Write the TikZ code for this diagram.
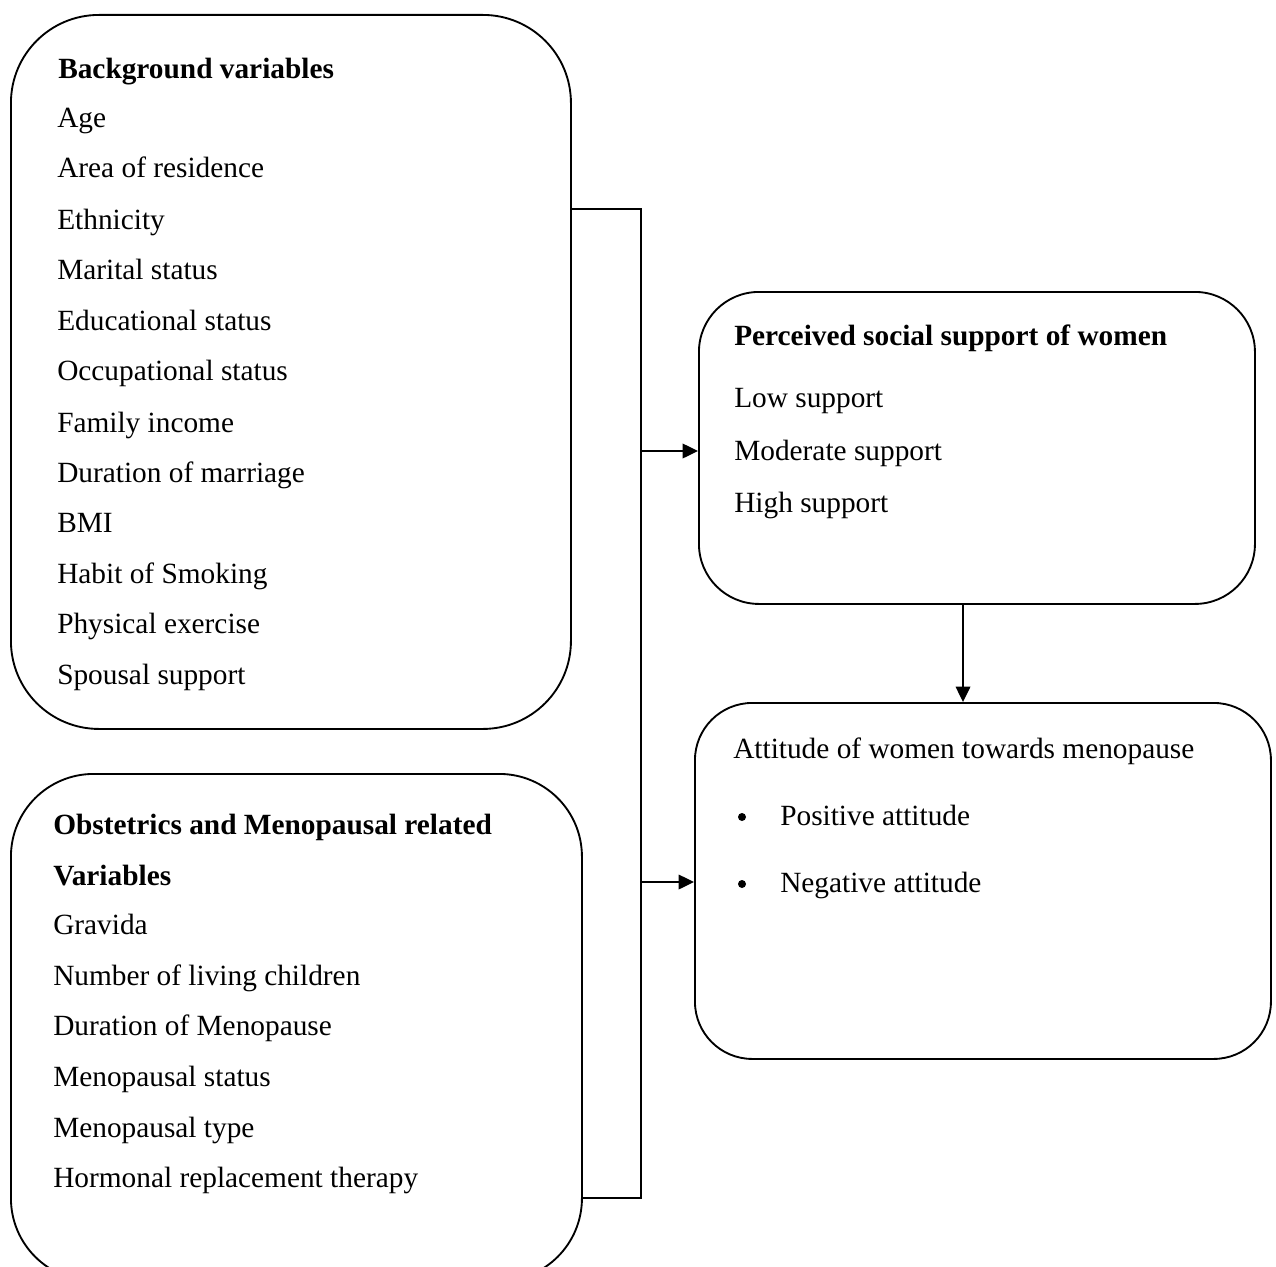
\documentclass[tikz,border=0pt]{standalone}
\usepackage{fontspec}
\setmainfont{Liberation Serif}
\usetikzlibrary{arrows.meta}
\begin{document}
\begin{tikzpicture}[x=0.75pt,y=-0.75pt,
  box/.style={draw,line width=1.4pt,inner sep=0pt,anchor=north west},
  txt/.style={anchor=base west,inner sep=0pt,font=\fontsize{22}{26}\selectfont},
  btxt/.style={anchor=base west,inner sep=0pt,font=\fontsize{22}{26}\selectfont\bfseries},
  bul/.style={circle,fill,inner sep=0pt,minimum size=6pt},
  conn/.style={line width=1pt},
  arr/.style={conn,-{Triangle[length=11.5pt,width=11pt]}}]
\useasboundingbox (0,0) rectangle (1276,1266);

% boxes
\node[box,rounded corners=66pt,minimum width=420pt,minimum height=535.5pt] (bg) at (10,14) {};
\node[box,rounded corners=62pt,minimum width=428.25pt,minimum height=380.25pt] (ob) at (10,773) {};
\node[box,rounded corners=45pt,minimum width=417pt,minimum height=234pt] (ps) at (698,291) {};
\node[box,rounded corners=43pt,minimum width=432pt,minimum height=267pt] (att) at (694,702) {};

% box 1 text
\node[btxt] (b0) at (58,79) {Background variables};
\node[txt] (b1) at (57,128) {Age};
\node[txt] (b2) at (57,178) {Area of residence};
\node[txt] (b3) at (57,229) {Ethnicity};
\node[txt] (b4) at (57,279) {Marital status};
\node[txt] (b5) at (57,330) {Educational status};
\node[txt] (b6) at (57,380) {Occupational status};
\node[txt] (b7) at (57,432) {Family income};
\node[txt] (b8) at (57,482) {Duration of marriage};
\node[txt] (b9) at (57,532) {BMI};
\node[txt] (b10) at (57,583) {Habit of Smoking};
\node[txt] (b11) at (57,633) {Physical exercise};
\node[txt] (b12) at (57,684) {Spousal support};

% box 2 text
\node[btxt] (o0) at (53,834) {Obstetrics and Menopausal related};
\node[btxt] (o1) at (53,885) {Variables};
\node[txt] (o2) at (53,934) {Gravida};
\node[txt] (o3) at (53,985) {Number of living children};
\node[txt] (o4) at (53,1035) {Duration of Menopause};
\node[txt] (o5) at (53,1086) {Menopausal status};
\node[txt] (o6) at (53,1137) {Menopausal type};
\node[txt] (o7) at (53,1187) {Hormonal replacement therapy};

% box 3 text
\node[btxt] (p0) at (734,345) {Perceived social support of women};
\node[txt] (p1) at (734,407) {Low support};
\node[txt] (p2) at (734,460) {Moderate support};
\node[txt] (p3) at (734,512) {High support};

% box 4 text
\node[txt] (a0) at (733,758) {Attitude of women towards menopause};
\node[bul] (a1b) at (742,817) {};
\node[txt] (a1) at (780,825) {Positive attitude};
\node[bul] (a2b) at (742,884) {};
\node[txt] (a2) at (780,892) {Negative attitude};

% connectors
\coordinate (j1) at (641,209);
\coordinate (j2) at (641,1198);
\coordinate (k1) at (641,451);
\coordinate (k2) at (641,882);
\coordinate (v) at (963,650);
\draw[conn] (bg.east |- j1) -- (j1) -- (j2) -- (ob.east |- j2);
\draw[arr] (k1) -- (ps.west |- k1);
\draw[arr] (k2) -- (att.west |- k2);
\draw[arr] (ps.south -| v) -- (att.north -| v);
\end{tikzpicture}
\end{document}
